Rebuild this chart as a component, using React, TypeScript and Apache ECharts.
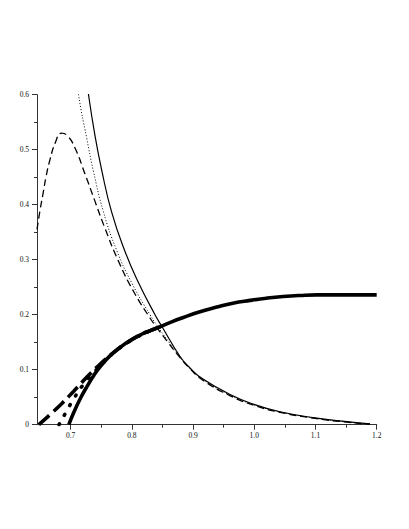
import React, { useEffect, useRef } from "react";
import * as echarts from "echarts";

// x range and tick values
const X_MIN = 0.645;
const X_MAX = 1.2;
const xMajorTicks = [0.7, 0.8, 0.9, 1.0, 1.1, 1.2];
const xMinorTicks = [0.75, 0.85, 0.95, 1.05, 1.15];

// thin curves (decreasing)
const thinSolid: number[][] = [
  [0.724, 0.65], [0.7288, 0.603], [0.7398, 0.525], [0.7507, 0.463], [0.7671, 0.386],
  [0.7888, 0.315], [0.8105, 0.259], [0.8378, 0.2], [0.8488, 0.179], [0.8787, 0.124],
  [0.895, 0.103], [0.9162, 0.083], [0.9604, 0.055], [0.9996, 0.037], [1.0421, 0.0235],
  [1.0992, 0.0125], [1.1515, 0.0055], [1.1891, 0.0015],
];
const thinDotted: number[][] = [
  [0.709, 0.65], [0.7125, 0.603], [0.7262, 0.521], [0.737, 0.462], [0.7533, 0.388],
  [0.7752, 0.317], [0.7997, 0.258], [0.8296, 0.2], [0.845, 0.174], [0.862, 0.148],
  [0.877, 0.125], [0.894, 0.103], [0.916, 0.082], [0.96, 0.054], [1.0, 0.036],
  [1.042, 0.023], [1.099, 0.012], [1.1515, 0.005], [1.1891, 0.0012],
];
const thinDashed: number[][] = [
  [0.645, 0.355], [0.65, 0.39], [0.655, 0.421], [0.66, 0.452], [0.666, 0.481],
  [0.675, 0.513], [0.685, 0.53], [0.695, 0.525], [0.7071, 0.503], [0.7234, 0.456],
  [0.7398, 0.406], [0.7561, 0.357], [0.7778, 0.298], [0.8024, 0.243], [0.8296, 0.194],
  [0.8406, 0.177], [0.858, 0.151], [0.875, 0.127], [0.893, 0.104], [0.916, 0.081],
  [0.96, 0.053], [1.0, 0.035], [1.042, 0.0225], [1.099, 0.0115], [1.1515, 0.0045],
  [1.1891, 0.001],
];

// thick curves (increasing)
const thickSolid: number[][] = [
  [0.697, 0], [0.705, 0.022], [0.716, 0.048], [0.727, 0.07], [0.738, 0.09],
  [0.75, 0.108], [0.765, 0.126], [0.78, 0.14], [0.797, 0.153], [0.815, 0.164],
  [0.83, 0.171], [0.846, 0.178], [0.865, 0.187], [0.884, 0.195], [0.91, 0.205],
  [0.939, 0.214], [0.965, 0.221], [0.993, 0.226], [1.02, 0.23], [1.047, 0.233],
  [1.075, 0.235], [1.102, 0.236], [1.15, 0.236], [1.2, 0.236],
];
const thickDotted: number[][] = [
  [0.681, 0], [0.692, 0.022], [0.705, 0.047], [0.72, 0.072], [0.738, 0.095],
  [0.758, 0.118], [0.778, 0.138], [0.8, 0.154], [0.83, 0.171], [0.846, 0.178],
];
const thickDashed: number[][] = [
  [0.648, 0], [0.665, 0.017], [0.686, 0.039], [0.705, 0.061], [0.727, 0.087],
  [0.748, 0.11], [0.77, 0.131], [0.792, 0.149], [0.815, 0.164], [0.83, 0.171],
  [0.846, 0.178],
];

const FONT = "'Liberation Serif', 'DejaVu Serif', serif";

export default function App() {
  const ref = useRef<HTMLDivElement>(null);
  useEffect(() => {
    if (!ref.current) return;
    const chart = echarts.init(ref.current, undefined, { renderer: "svg" });
    const axisColor = "#333";
    const labelStyle = { color: "#111", fontFamily: FONT, fontSize: 7.5 };
    const lineSeries = (data: number[][], width: number, type: any, cap: any = "butt", z = 2) => ({
      type: "line",
      data,
      xAxisIndex: 0,
      yAxisIndex: 0,
      smooth: 0.5,
      showSymbol: false,
      symbol: "none",
      clip: true,
      z,
      lineStyle: { color: "#000", width, type, cap },
    });
    chart.setOption({
      animation: false,
      backgroundColor: "#fff",
      grid: { left: 37, right: 32.3, top: 94.7, bottom: 104.3, containLabel: false },
      xAxis: [
        {
          type: "value",
          min: X_MIN,
          max: X_MAX,
          axisLine: { show: true, onZero: false, lineStyle: { color: axisColor, width: 1 } },
          axisTick: { show: true, length: 5, customValues: xMajorTicks, lineStyle: { color: axisColor } },
          axisLabel: {
            show: true,
            customValues: xMajorTicks,
            margin: 7,
            formatter: (v: number) => v.toFixed(1),
            ...labelStyle,
          },
          splitLine: { show: false },
        },
        {
          type: "value",
          min: X_MIN,
          max: X_MAX,
          position: "bottom",
          axisLine: { show: false },
          axisTick: { show: true, length: 3, customValues: xMinorTicks, lineStyle: { color: axisColor } },
          axisLabel: { show: false },
          splitLine: { show: false },
        },
      ],
      yAxis: {
        type: "value",
        min: 0,
        max: 0.6,
        interval: 0.1,
        axisLine: { show: true, onZero: false, lineStyle: { color: axisColor, width: 1 } },
        axisTick: { show: true, length: 5, lineStyle: { color: axisColor } },
        minorTick: { show: true, splitNumber: 2, length: 3, lineStyle: { color: axisColor } },
        axisLabel: {
          margin: 8,
          formatter: (v: number) => (v === 0 ? "0" : v.toFixed(1)),
          ...labelStyle,
        },
        splitLine: { show: false },
      },
      series: [
        lineSeries(thinDashed, 1.3, [7, 4]),
        lineSeries(thinDotted, 1, [1, 2]),
        lineSeries(thinSolid, 1.2, "solid"),
        lineSeries(thickDashed, 3.6, [14, 6], "butt", 3),
        lineSeries(thickDotted, 3.6, [1, 10], "round", 3),
        lineSeries(thickSolid, 3.6, "solid", "butt", 4),
      ],
    });
    return () => chart.dispose();
  }, []);
  return (
    <div
      ref={ref}
      style={{ position: "fixed", left: 0, top: 0, width: 409, height: 529, background: "#fff" }}
    />
  );
}
